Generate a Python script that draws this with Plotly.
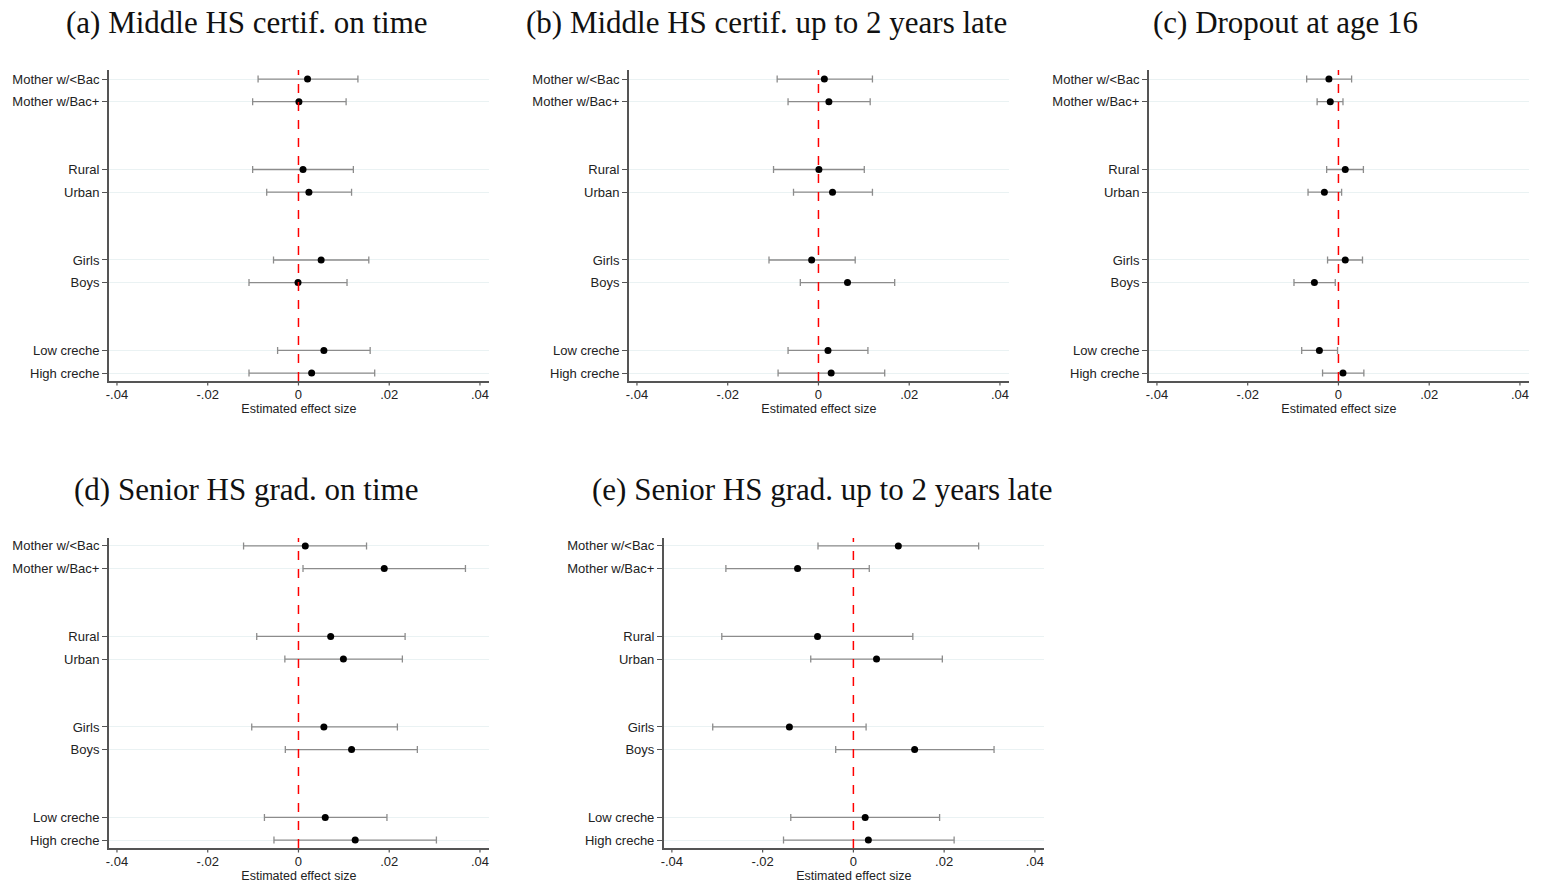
import plotly.graph_objects as go

categories = ["Mother w/<Bac", "Mother w/Bac+", "Rural", "Urban", "Girls", "Boys", "Low creche", "High creche"]
positions = [1, 2, 5, 6, 9, 10, 13, 14]

titles = ["(a) Middle HS certif. on time",
          "(b) Middle HS certif. up to 2 years late",
          "(c) Dropout at age 16",
          "(d) Senior HS grad. on time",
          "(e) Senior HS grad. up to 2 years late"]

est_a = [0.0020, 0.0001, 0.0010, 0.0023, 0.0050, -0.0001, 0.0056, 0.0029]
lo_a = [-0.0089, -0.0101, -0.0101, -0.0070, -0.0055, -0.0109, -0.0046, -0.0109]
hi_a = [0.0131, 0.0105, 0.0121, 0.0117, 0.0155, 0.0107, 0.0158, 0.0168]

est_b = [0.0013, 0.0023, 0.0001, 0.0031, -0.0015, 0.0064, 0.0021, 0.0028]
lo_b = [-0.0091, -0.0067, -0.0099, -0.0055, -0.0109, -0.0040, -0.0067, -0.0089]
hi_b = [0.0119, 0.0114, 0.0101, 0.0119, 0.0081, 0.0168, 0.0109, 0.0146]

est_c = [-0.0021, -0.0018, 0.0015, -0.0031, 0.0015, -0.0053, -0.0042, 0.0010]
lo_c = [-0.0070, -0.0047, -0.0026, -0.0067, -0.0024, -0.0098, -0.0081, -0.0035]
hi_c = [0.0029, 0.0010, 0.0055, 0.0007, 0.0053, -0.0007, -0.0002, 0.0056]

est_d = [0.0015, 0.0189, 0.0071, 0.0099, 0.0056, 0.0117, 0.0059, 0.0125]
lo_d = [-0.0121, 0.0010, -0.0092, -0.0030, -0.0103, -0.0029, -0.0075, -0.0054]
hi_d = [0.0150, 0.0368, 0.0235, 0.0229, 0.0218, 0.0262, 0.0195, 0.0304]

est_e = [0.0099, -0.0123, -0.0079, 0.0051, -0.0141, 0.0135, 0.0026, 0.0033]
lo_e = [-0.0078, -0.0281, -0.0290, -0.0094, -0.0310, -0.0039, -0.0138, -0.0154]
hi_e = [0.0276, 0.0035, 0.0131, 0.0196, 0.0028, 0.0310, 0.0190, 0.0222]

x_ticks = [-0.04, -0.02, 0, 0.02, 0.04]
x_ticktext = ["-.04", "-.02", "0", ".02", ".04"]

panels = [
    (est_a, lo_a, hi_a),
    (est_b, lo_b, hi_b),
    (est_c, lo_c, hi_c),
    (est_d, lo_d, hi_d),
    (est_e, lo_e, hi_e),
]

W, H = 1543, 884
# pixel layout of each plot area: (left, right, top, bottom)
boxes = [(106, 487, 70, 381), (627, 1008, 70, 381), (1148, 1529, 70, 381),
         (106, 487, 538, 848), (662, 1043, 538, 848)]
title_pos = [(244, 22), (764.5, 22), (1285, 22), (243.5, 489), (821, 489)]
yranges = [[14.35, 0.6]] * 3 + [[14.35, 0.65]] * 2

AX = "#555555"
SANS = "Liberation Sans, Arial, Helvetica"
fig = go.Figure()
layout = dict(width=W, height=H, margin=dict(l=0, r=0, t=0, b=0),
              paper_bgcolor="white", plot_bgcolor="white", showlegend=False)
shapes = []
annotations = []
for i, (est, lo, hi) in enumerate(panels):
    k = "" if i == 0 else str(i + 1)
    xa, ya = "x" + k, "y" + k
    l, r, t, b = boxes[i]
    plus = [h - e for h, e in zip(hi, est)]
    minus = [e - lo_ for e, lo_ in zip(est, lo)]
    fig.add_trace(go.Scatter(
        x=est, y=positions, mode="markers", xaxis=xa, yaxis=ya,
        marker=dict(color="black", size=7),
        error_x=dict(type="data", symmetric=False, array=plus, arrayminus=minus,
                     color="#8c8c8c", thickness=1.3, width=3.5),
    ))
    layout["xaxis" + k] = dict(
        domain=[l / W, r / W], anchor=ya, range=[-0.0418, 0.042],
        tickvals=x_ticks, ticktext=x_ticktext, ticks="", ticklabelstandoff=1,
        showline=True, linecolor=AX, linewidth=1.5,
        showgrid=False, zeroline=False,
        tickfont=dict(family=SANS, size=13, color="#222"),
        title=dict(text="Estimated effect size", standoff=0,
                   font=dict(family=SANS, size=12.5, color="#222")),
    )
    layout["yaxis" + k] = dict(
        domain=[1 - b / H, 1 - t / H], anchor=xa, range=yranges[i],
        tickvals=positions, ticktext=categories, ticks="outside", ticklen=5,
        tickcolor=AX, tickwidth=1.2, showline=True, linecolor=AX, linewidth=1.5,
        showgrid=True, gridcolor="#eaf2f3", gridwidth=1.2, zeroline=False,
        tickfont=dict(family=SANS, size=13, color="#222"),
    )
    # outside tick marks on the x axis, at the tick values
    tick_len = 4.5 / (b - t)
    for tv in x_ticks:
        shapes.append(dict(type="line", xref=xa, yref=ya + " domain", x0=tv, x1=tv,
                           y0=0, y1=-tick_len, line=dict(color=AX, width=1.2), layer="above"))
    shapes.append(dict(type="line", xref=xa, yref=ya + " domain", x0=0, x1=0, y0=0, y1=1,
                       line=dict(color="red", width=1.5, dash="dash"), layer="above"))
    tx, ty = title_pos[i]
    annotations.append(dict(text=titles[i], xref="paper", yref="paper",
                            x=tx / W, y=1 - ty / H, xanchor="center", yanchor="middle",
                            showarrow=False,
                            font=dict(family="Liberation Serif, DejaVu Serif, serif", size=31, color="#111")))

layout["shapes"] = shapes
layout["annotations"] = annotations
fig.update_layout(**layout)
fig.write_html("out.html")
